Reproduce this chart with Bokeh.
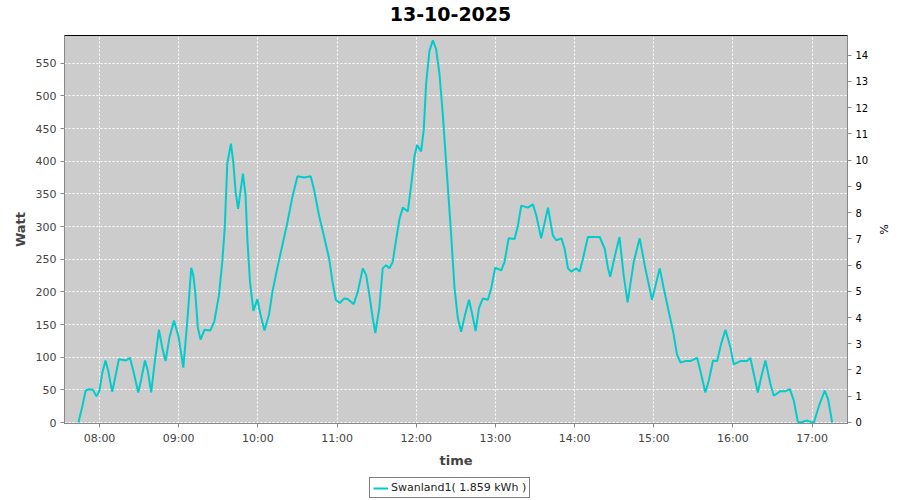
import pandas as pd
from bokeh.plotting import figure
from bokeh.layouts import column
from bokeh.models import (Range1d, LinearAxis, FixedTicker, SingleIntervalTicker,
                          DatetimeTickFormatter, Legend, LegendItem, ColumnDataSource, Label)
from bokeh.embed import file_html
from bokeh.resources import INLINE

title_text = "13-10-2025"
day = "2025-10-13"
series_name = "Swanland1"
energy_kwh = "1.859"
hour_ticks = ["08:00", "09:00", "10:00", "11:00", "12:00", "13:00", "14:00", "15:00", "16:00", "17:00"]
pct_ticks = list(range(15))

times = [
    "07:44:00", "07:47:00", "07:49:30", "07:52:00", "07:55:00", "07:57:40", "08:00:00", "08:02:00",
    "08:04:30", "08:06:30", "08:09:35", "08:12:00", "08:14:40", "08:17:00", "08:20:00", "08:23:00",
    "08:25:30", "08:29:20", "08:31:30", "08:34:25", "08:36:30", "08:39:10", "08:41:30", "08:45:00",
    "08:47:30", "08:50:00", "08:53:00", "08:56:25", "09:00:00", "09:03:30", "09:06:30", "09:09:30",
    "09:11:00", "09:12:30", "09:14:30", "09:16:35", "09:19:30", "09:24:00", "09:27:00", "09:30:30",
    "09:33:00", "09:34:50", "09:36:50", "09:39:35", "09:41:25", "09:43:10", "09:45:00", "09:48:40",
    "09:50:40", "09:52:00", "09:54:00", "09:56:35", "09:59:35", "10:02:00", "10:05:00", "10:08:25",
    "10:11:00", "10:14:40", "10:18:30", "10:22:20", "10:26:00", "10:30:00", "10:35:00", "10:40:00",
    "10:42:30", "10:46:20", "10:50:00", "10:54:00", "10:56:30", "10:59:00", "11:02:00", "11:05:30",
    "11:08:00", "11:12:35", "11:15:40", "11:19:30", "11:22:00", "11:24:30", "11:27:00", "11:29:00",
    "11:32:00", "11:34:35", "11:37:10", "11:39:40", "11:42:10", "11:44:50", "11:47:20", "11:49:50",
    "11:53:35", "11:56:05", "11:58:40", "12:00:40", "12:03:40", "12:05:40", "12:07:30", "12:10:00",
    "12:12:35", "12:15:00", "12:17:35", "12:20:05", "12:22:40", "12:24:25", "12:26:30", "12:29:00",
    "12:31:30", "12:34:00", "12:37:00", "12:40:00", "12:42:30", "12:45:00", "12:47:30", "12:50:30",
    "12:54:20", "12:56:50", "12:59:50", "13:04:25", "13:06:55", "13:10:00", "13:14:30", "13:17:00",
    "13:19:35", "13:24:35", "13:28:25", "13:31:00", "13:34:40", "13:39:50", "13:43:35", "13:46:05",
    "13:50:00", "13:52:25", "13:55:00", "13:57:30", "14:01:20", "14:03:50", "14:06:20", "14:10:05",
    "14:15:10", "14:19:00", "14:22:50", "14:25:20", "14:27:00", "14:30:30", "14:34:00", "14:37:10",
    "14:40:10", "14:44:50", "14:49:20", "14:53:35", "14:58:40", "15:04:30", "15:07:30", "15:11:20",
    "15:15:05", "15:17:35", "15:20:10", "15:23:55", "15:27:40", "15:32:50", "15:35:20", "15:39:05",
    "15:41:40", "15:44:55", "15:48:00", "15:51:00", "15:54:20", "15:58:05", "16:00:35", "16:05:40",
    "16:10:40", "16:13:10", "16:15:50", "16:18:50", "16:21:30", "16:24:35", "16:28:25", "16:30:55",
    "16:36:00", "16:39:50", "16:43:05", "16:46:05", "16:49:10", "16:51:00", "16:56:20", "16:58:50",
    "17:01:20", "17:05:05", "17:09:35", "17:12:10", "17:14:00", "17:15:10",
]
watts = [
    0, 25, 49, 51, 50, 40, 49, 75,
    95, 80, 47, 70, 97, 96, 95, 99,
    80, 46, 65, 95, 80, 46, 87, 142,
    115, 94, 130, 156, 130, 84, 155, 237,
    226, 200, 145, 127, 142, 141, 155, 195,
    246, 296, 397, 427, 397, 352, 327, 381,
    347, 281, 216, 171, 189, 165, 141, 165,
    200, 236, 271, 306, 344, 377, 375, 377,
    357, 317, 286, 251, 216, 188, 183, 190,
    189, 181, 200, 236, 226, 195, 160, 137,
    175, 236, 241, 236, 246, 281, 312, 329,
    323, 362, 408, 425, 415, 448, 519, 569,
    585, 572, 534, 473, 397, 347, 286, 206,
    160, 139, 165, 188, 165, 140, 175, 190,
    188, 206, 237, 233, 246, 282, 281, 301,
    332, 329, 334, 317, 282, 329, 286, 279,
    282, 266, 236, 231, 236, 231, 251, 284,
    284, 284, 266, 236, 223, 255, 284, 226,
    184, 246, 282, 236, 188, 236, 206, 170,
    135, 104, 92, 94, 94, 99, 79, 46,
    64, 95, 94, 120, 142, 115, 89, 94,
    94, 99, 74, 46, 70, 95, 59, 41,
    48, 48, 51, 34, 1, 0, 3, 1,
    0, 25, 49, 35, 14, 0,
]

x = pd.to_datetime([f"{day} {t}" for t in times])
src = ColumnDataSource(dict(x=x, y=watts))

x_start = pd.Timestamp(f"{day} 07:33:27")
x_end = pd.Timestamp(f"{day} 17:26:48")
tick_ms = [pd.Timestamp(f"{day} {h}").value // 10**6 for h in hour_ticks]

FONT = "DejaVu Sans"
LINE_COLOR = "#00CCCC"


def strip(height):
    """A blank strip whose frame lines up with the chart frame (used for title / legend)."""
    s = figure(width=900, height=height, output_backend="svg", toolbar_location=None,
               x_range=Range1d(0, 783), y_range=Range1d(0, height),
               x_axis_location=None, y_axis_location=None,
               min_border=0, min_border_left=0, min_border_right=0,
               min_border_top=0, min_border_bottom=0)
    s.outline_line_color = None
    s.background_fill_color = "white"
    s.border_fill_color = "white"
    s.xgrid.visible = False
    s.ygrid.visible = False
    return s


# ---- title strip
tf = strip(35)
tf.add_layout(Label(x=386, y=21.5, text=title_text, text_align="center", text_baseline="middle",
                    text_font=FONT, text_font_size="19px", text_font_style="bold",
                    text_color="black"))

# ---- main chart
p = figure(width=900, height=435, x_axis_type="datetime", output_backend="svg",
           toolbar_location=None, x_range=Range1d(x_start, x_end),
           y_range=Range1d(-1.5, 592.5),
           min_border_left=64, min_border_right=53, min_border_top=0, min_border_bottom=43)

p.background_fill_color = "#CCCCCC"
p.border_fill_color = "white"
p.outline_line_color = "black"
p.outline_line_width = 1

r = p.line("x", "y", source=src, line_color=LINE_COLOR, line_width=2)

xa = p.xaxis[0]
xa.ticker = FixedTicker(ticks=tick_ms)
xa.formatter = DatetimeTickFormatter(hours="%H:%M", minutes="%H:%M", days="%H:%M",
                                     hourmin="%H:%M", minsec="%H:%M", seconds="%H:%M")
xa.axis_label = "time"
ya = p.yaxis[0]
ya.ticker = SingleIntervalTicker(interval=50)
ya.axis_label = "Watt"

for ax in (xa, ya):
    ax.axis_label_text_font = FONT
    ax.axis_label_text_font_size = "13px"
    ax.axis_label_text_font_style = "bold"
    ax.axis_label_text_color = "#444444"
    ax.major_label_text_font = FONT
    ax.major_label_text_font_size = "11px"
    ax.major_label_text_color = "#444444"
    ax.axis_line_color = "#888888"
    ax.major_tick_line_color = "#888888"
    ax.major_tick_in = 0
    ax.major_tick_out = 4
    ax.minor_tick_line_color = None
    ax.major_label_standoff = 4
    ax.axis_label_standoff = 5

p.extra_y_ranges = {"pct": Range1d(-0.04, 14.75)}
ra = LinearAxis(y_range_name="pct", axis_label="%", ticker=FixedTicker(ticks=pct_ticks))
ra.axis_label_text_font = FONT
ra.axis_label_text_font_size = "11px"
ra.axis_label_text_font_style = "normal"
ra.axis_label_text_color = "black"
ra.major_label_text_font = FONT
ra.major_label_text_font_size = "10px"
ra.major_label_text_color = "black"
ra.axis_line_color = "#888888"
ra.major_tick_line_color = "#888888"
ra.major_tick_in = 0
ra.major_tick_out = 4
ra.minor_tick_line_color = None
ra.major_label_standoff = 4
ra.axis_label_standoff = 6
p.add_layout(ra, "right")

p.xgrid.grid_line_color = "white"
p.xgrid.grid_line_dash = "2 2"
p.xgrid.grid_line_width = 1
p.ygrid.grid_line_color = "white"
p.ygrid.grid_line_dash = "2 2"
p.ygrid.grid_line_width = 1

# ---- legend strip
lf = strip(30)
# legend-only sample renderer, kept outside the visible range
lr = lf.line(x=[-50, -40], y=[-50, -40], line_color=LINE_COLOR, line_width=2)
legend = Legend(items=[LegendItem(label=f"{series_name}( {energy_kwh} kWh )", renderers=[lr])],
                orientation="horizontal", location=(305, 2))
legend.label_text_font = FONT
legend.label_text_font_size = "11px"
legend.label_text_color = "#222222"
legend.border_line_color = "black"
legend.border_line_width = 1
legend.background_fill_color = "white"
legend.glyph_width = 15
legend.glyph_height = 12
legend.label_standoff = 3
legend.padding = 3
legend.margin = 0
legend.spacing = 0
legend.label_height = 12
lf.add_layout(legend, "center")

layout = column(tf, p, lf, spacing=0)
open("out.html", "w").write(file_html(layout, INLINE))
